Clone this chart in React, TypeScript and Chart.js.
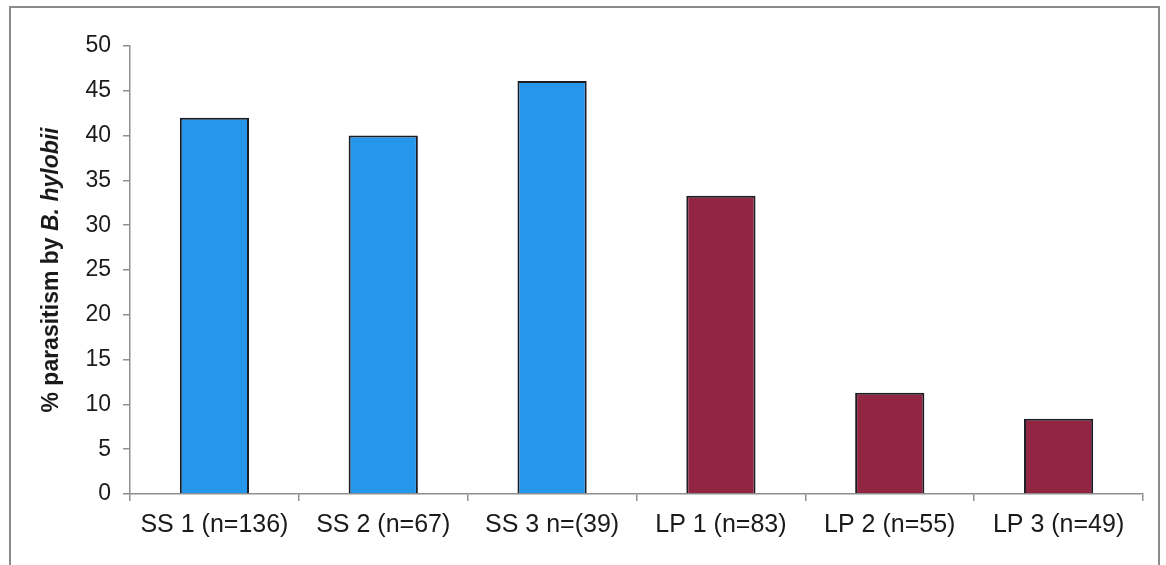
import React, { useEffect, useRef } from "react";
import { Chart, registerables } from "chart.js";

Chart.register(...registerables);

const categories = ["SS 1 (n=136)", "SS 2 (n=67)", "SS 3 n=(39)", "LP 1 (n=83)", "LP 2 (n=55)", "LP 3 (n=49)"];
const parasitism = [42, 40, 46.1, 33.3, 11.3, 8.4];
const barColors = ["#2596EA", "#2596EA", "#2596EA", "#922642", "#922642", "#922642"];
const titlePlain = "% parasitism by ";
const titleItalic = "B. hylobii";
const yTicksMin = 0;
const yTicksMax = 50;
const yTicksStep = 5;

const FONT = "'Liberation Sans', Arial, sans-serif";

const framePlugin = {
  id: "frame",
  beforeDraw(chart: any) {
    const ctx = chart.ctx;
    ctx.save();
    ctx.fillStyle = "#ffffff";
    ctx.fillRect(0, 0, chart.width, chart.height);
    ctx.strokeStyle = "#8a8a8a";
    ctx.lineWidth = 2;
    ctx.strokeRect(10, 7, 1149, 600);
    ctx.restore();
  },
  afterDraw(chart: any) {
    const ctx = chart.ctx;
    const area = chart.chartArea;
    ctx.save();
    ctx.translate(52, (area.top + area.bottom) / 2);
    ctx.rotate(-Math.PI / 2);
    ctx.fillStyle = "#1a1a1a";
    ctx.textBaseline = "middle";
    ctx.textAlign = "left";
    const f1 = `bold 23px ${FONT}`;
    const f2 = `italic bold 23px ${FONT}`;
    ctx.font = f1;
    const w1 = ctx.measureText(titlePlain).width;
    ctx.font = f2;
    const w2 = ctx.measureText(titleItalic).width;
    const start = -(w1 + w2) / 2;
    ctx.font = f1;
    ctx.fillText(titlePlain, start, 0);
    ctx.font = f2;
    ctx.fillText(titleItalic, start + w1, 0);
    ctx.restore();
  },
};

export default function App() {
  const ref = useRef<HTMLCanvasElement>(null);
  useEffect(() => {
    if (!ref.current) return;
    const chart = new Chart(ref.current, {
      type: "bar",
      data: {
        labels: categories,
        datasets: [
          {
            data: parasitism,
            backgroundColor: barColors,
            borderColor: "#1c1c24",
            borderWidth: 2,
            barPercentage: 0.41,
            categoryPercentage: 1,
          },
        ],
      },
      plugins: [framePlugin],
      options: {
        animation: false,
        responsive: false,
        maintainAspectRatio: false,
        layout: { padding: { top: 46, right: 23, left: 0, bottom: 0 } },
        plugins: {
          legend: { display: false },
          tooltip: { enabled: false },
          title: { display: false },
        },
        scales: {
          x: {
            offset: true,
            grid: {
              offset: true,
              drawOnChartArea: false,
              drawTicks: true,
              tickLength: 7,
              color: "#8f8f8f",
              lineWidth: 1.5,
            },
            border: { color: "#8f8f8f", width: 1.5 },
            ticks: {
              color: "#1a1a1a",
              font: { family: FONT, size: 25 },
              padding: 9,
              maxRotation: 0,
              autoSkip: false,
            },
            afterFit(scale: any) {
              scale.height = 71;
            },
          },
          y: {
            min: yTicksMin,
            max: yTicksMax,
            grid: {
              drawOnChartArea: false,
              drawTicks: true,
              tickLength: 7,
              color: "#8f8f8f",
              lineWidth: 1.5,
            },
            border: { color: "#8f8f8f", width: 1.5 },
            ticks: {
              stepSize: yTicksStep,
              color: "#1a1a1a",
              font: { family: FONT, size: 23 },
              padding: 12,
            },
            afterFit(scale: any) {
              scale.width = 130;
            },
          },
        },
      },
    });
    return () => chart.destroy();
  }, []);
  return (
    <div style={{ position: "fixed", left: 0, top: 0, width: 1166, height: 565, background: "#fff" }}>
      <canvas ref={ref} width={1166} height={565} style={{ display: "block" }} />
    </div>
  );
}
